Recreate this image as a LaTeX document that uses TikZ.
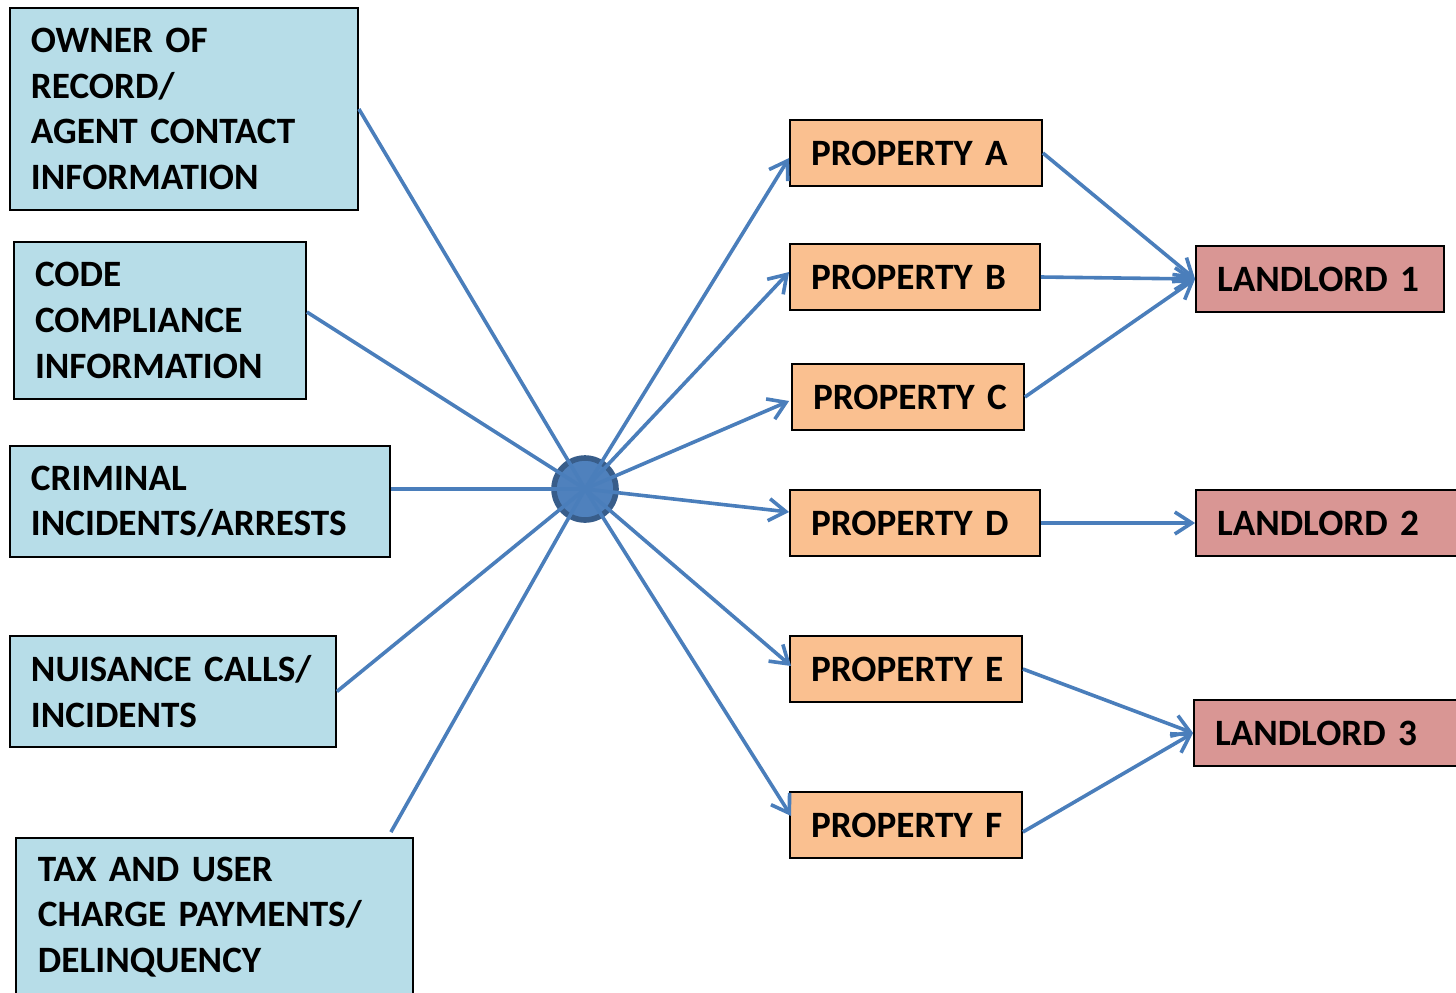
\documentclass[tikz,border=0pt]{standalone}
\usepackage{fontspec}
\setmainfont{Carlito}
\usetikzlibrary{arrows.meta}
\definecolor{infofill}{HTML}{B7DDE8}
\definecolor{propfill}{HTML}{FAC090}
\definecolor{lordfill}{HTML}{D99694}
\definecolor{linkblue}{HTML}{4A7EBB}
\definecolor{hubfill}{HTML}{4F81BD}
\definecolor{hubedge}{HTML}{385D8A}
\newcommand\diagboxfont{\bfseries\fontsize{18.6}{22.8}\selectfont\spaceskip=0.17em\relax}
\tikzset{
  basebox/.style={draw=black, line width=0.9pt, rectangle, align=left, inner xsep=10.5pt, inner ysep=0pt,
    font=\diagboxfont},
  infobox/.style={basebox, fill=infofill},
  propbox/.style={basebox, fill=propfill, minimum height=33pt},
  lordbox/.style={basebox, fill=lordfill, minimum height=33pt},
  link/.style={draw=linkblue, line width=1.8pt},
  arrowlink/.style={link, -{Straight Barb[length=8.5pt,width=11pt,line width=1.8pt]}},
}
\begin{document}
\begin{tikzpicture}[x=0.5pt,y=-0.5pt]
\useasboundingbox (0,0) rectangle (1456,992);
% information boxes
\node[infobox, text width=153pt, minimum height=101pt] (owner) at (184,109) {OWNER OF\\RECORD/\\AGENT CONTACT\\INFORMATION};
\node[infobox, text width=125pt, minimum height=78.5pt] (code) at (160,320.5) {CODE\\COMPLIANCE\\INFORMATION};
\node[infobox, text width=169pt, minimum height=55.5pt] (crim) at (200,501.5) {CRIMINAL\\INCIDENTS/ARRESTS};
\node[infobox, text width=142pt, minimum height=55.5pt] (nuis) at (173,691.5) {NUISANCE CALLS/\\INCIDENTS};
\node[infobox, inner xsep=11pt, text width=176.5pt, minimum height=79pt] (tax) at (214.5,917) {TAX AND USER\\CHARGE PAYMENTS/\\DELINQUENCY};
% properties
\node[propbox, text width=105pt] (pa) at (916,153) {\mbox{PROPERTY A}};
\node[propbox, text width=104pt] (pb) at (915,277) {\mbox{PROPERTY B}};
\node[propbox, text width=95pt] (pc) at (908,397) {\mbox{PROPERTY C}};
\node[propbox, text width=104pt] (pd) at (915,523) {\mbox{PROPERTY D}};
\node[propbox, text width=95pt] (pe) at (906,669) {\mbox{PROPERTY E}};
\node[propbox, text width=95pt] (pf) at (906,825) {\mbox{PROPERTY F}};
% landlords
\node[lordbox, text width=103pt] (l1) at (1320,279) {\mbox{LANDLORD 1}};
\node[lordbox, text width=114pt] (l2) at (1331,523) {\mbox{LANDLORD 2}};
\node[lordbox, text width=117pt] (l3) at (1332,733) {\mbox{LANDLORD 3}};
% hub
\node[circle, fill=hubfill, draw=hubedge, line width=2.8pt, minimum size=31pt, inner sep=0pt] (hub) at (585,489) {};
% inputs to hub
\draw[link] (owner.east) -- (hub.center);
\draw[link] ([yshift=4.25pt]code.east) -- (hub.center);
\draw[link] (hub.center -| crim.east) -- (hub.center);
\draw[link] (nuis.east) -- (hub.center);
\draw[link] ([xshift=-11.5pt,yshift=2.5pt]tax.north east) -- (hub.center);
% hub to properties
\draw[arrowlink] (hub.center) -- ([yshift=-2.5pt]pa.west);
\draw[arrowlink] (hub.center) -- ([yshift=2.5pt]pb.west);
\draw[arrowlink] (hub.center) -- ([xshift=-1pt,yshift=-2pt]pc.west);
\draw[arrowlink] (hub.center) -- ([yshift=5.5pt]pd.west);
\draw[arrowlink] (hub.center) -- ([xshift=1pt,yshift=1.5pt]pe.west);
\draw[arrowlink] (hub.center) -- ([xshift=1pt,yshift=4.5pt]pf.west);
% properties to landlords
\draw[arrowlink] (pa.east) -- (l1.west);
\draw[arrowlink] (pb.east) -- (l1.west);
\draw[arrowlink] (pc.east) -- (l1.west);
\draw[arrowlink] (pd.east) -- (l2.west);
\draw[arrowlink] (pe.east) -- (l3.west);
\draw[arrowlink] ([yshift=-3.5pt]pf.east) -- (l3.west);
\end{tikzpicture}
\end{document}
